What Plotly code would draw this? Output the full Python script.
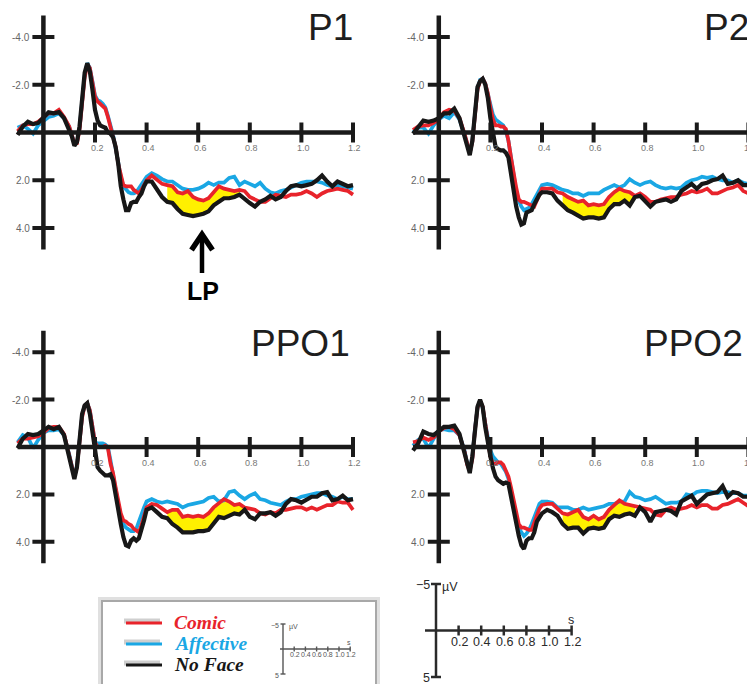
import plotly.graph_objects as go

# ---------------- data ----------------
TIME = [-0.10, -0.08, -0.06, -0.04, -0.02, 0.00, 0.02, 0.04, 0.06, 0.08,
        0.10, 0.11, 0.12, 0.13, 0.14, 0.15, 0.16, 0.17, 0.18, 0.19, 0.20,
        0.21, 0.22, 0.23, 0.24, 0.25, 0.26, 0.27, 0.28, 0.29, 0.30,
        0.31, 0.32, 0.33, 0.34, 0.35, 0.36, 0.37, 0.38, 0.39, 0.40,
        0.42, 0.44, 0.46, 0.48, 0.50, 0.52, 0.54, 0.56, 0.58, 0.60,
        0.62, 0.64, 0.66, 0.68, 0.70, 0.72, 0.74, 0.76, 0.78, 0.80,
        0.82, 0.84, 0.86, 0.88, 0.90, 0.92, 0.94, 0.96, 0.98, 1.00,
        1.02, 1.04, 1.06, 1.08, 1.10, 1.12, 1.14, 1.16, 1.18, 1.20]

P1_COMIC = [-0.05, -0.30, -0.35, -0.35, -0.45, -0.65, -0.80, -0.80, -0.95, -0.65,
            -0.25, 0.10, 0.45, 0.45, -0.10, -1.20, -2.30, -2.85, -2.70, -2.10, -1.50,
            -1.30, -1.20, -1.15, -1.00, -0.65, -0.25, 0.10, 0.60, 1.30, 1.85,
            2.20, 2.25, 2.25, 2.25, 2.40, 2.50, 2.55, 2.40, 2.20, 2.00,
            1.80, 2.00, 2.15, 2.20, 2.25, 2.50, 2.55, 2.45, 2.70, 2.80,
            2.85, 2.75, 2.50, 2.25, 2.35, 2.40, 2.45, 2.40, 2.45, 2.70,
            2.80, 2.90, 2.90, 2.75, 2.60, 2.65, 2.70, 2.60, 2.60, 2.55,
            2.45, 2.55, 2.70, 2.55, 2.45, 2.40, 2.35, 2.40, 2.45, 2.60]
P1_AFFECTIVE = [-0.20, -0.30, -0.15, 0.05, -0.30, -0.50, -0.65, -0.70, -0.80, -0.60,
                -0.25, 0.10, 0.45, 0.40, -0.15, -1.30, -2.40, -2.90, -2.70, -2.15, -1.55,
                -1.35, -1.30, -1.20, -1.05, -0.70, -0.30, 0.10, 0.65, 1.35, 1.85,
                2.25, 2.40, 2.50, 2.55, 2.55, 2.50, 2.35, 2.15, 2.00, 1.85,
                1.70, 1.80, 1.95, 2.05, 2.05, 2.20, 2.35, 2.40, 2.40, 2.35,
                2.25, 2.10, 2.20, 2.10, 2.10, 1.90, 1.85, 2.20, 2.05, 2.15,
                2.25, 2.10, 2.35, 2.50, 2.55, 2.45, 2.40, 2.30, 2.20, 2.10,
                2.05, 2.05, 2.05, 2.10, 2.20, 2.25, 2.20, 2.25, 2.30, 2.35]
P1_NOFACE = [0.10, -0.25, -0.45, -0.35, -0.40, -0.60, -0.85, -0.80, -0.85, -0.60,
             -0.15, 0.15, 0.55, 0.40, -0.25, -1.50, -2.50, -2.90, -2.55, -1.80, -0.95,
             -0.50, -0.30, -0.25, -0.20, 0.00, 0.05, 0.20, 0.60, 1.30, 2.25,
             2.80, 3.25, 3.25, 2.95, 2.90, 2.90, 2.70, 2.55, 2.25, 2.05,
             2.05, 2.35, 2.70, 2.90, 2.95, 3.20, 3.40, 3.45, 3.50, 3.45,
             3.40, 3.30, 3.05, 2.90, 2.75, 2.75, 2.70, 2.60, 2.80, 2.95,
             3.10, 2.90, 2.80, 2.65, 2.80, 2.70, 2.45, 2.25, 2.20, 2.25,
             2.20, 2.15, 2.00, 1.80, 2.05, 2.25, 2.05, 2.15, 2.25, 2.20]

P2_COMIC = [-0.10, -0.25, -0.30, -0.30, -0.40, -0.55, -0.85, -0.95, -0.90, -0.60,
            0.05, 0.50, 0.85, 0.40, -0.80, -1.80, -2.15, -2.25, -2.05, -1.65, -1.05,
            -0.55, -0.30, -0.30, -0.25, -0.25, -0.15, 0.35, 1.05, 1.75, 2.30,
            2.80, 2.90, 2.90, 2.95, 3.00, 3.05, 3.10, 2.85, 2.55, 2.35,
            2.35, 2.35, 2.50, 2.55, 2.70, 2.80, 2.90, 2.85, 3.05, 3.00,
            3.05, 3.00, 2.70, 2.50, 2.35, 2.45, 2.50, 2.65, 2.55, 2.70,
            2.90, 2.90, 2.80, 2.75, 2.70, 2.70, 2.60, 2.55, 2.45, 2.50,
            2.45, 2.35, 2.55, 2.55, 2.45, 2.35, 2.30, 2.20, 2.45, 2.55]
P2_AFFECTIVE = [0.00, -0.20, -0.20, 0.05, -0.30, -0.55, -0.70, -0.60, -0.85, -0.55,
                0.10, 0.50, 0.85, 0.35, -0.85, -1.85, -2.20, -2.25, -2.05, -1.60, -1.05,
                -0.75, -0.55, -0.45, -0.35, -0.30, -0.05, 0.35, 1.05, 1.80, 2.45,
                2.85, 3.10, 3.25, 3.20, 3.15, 3.00, 2.80, 2.55, 2.35, 2.20,
                2.15, 2.20, 2.30, 2.40, 2.45, 2.55, 2.55, 2.65, 2.55, 2.55,
                2.55, 2.40, 2.30, 2.20, 2.30, 2.20, 1.95, 2.10, 2.20, 2.10,
                2.05, 2.20, 2.30, 2.35, 2.30, 2.35, 2.30, 2.10, 2.00, 1.95,
                1.85, 1.90, 1.85, 1.95, 2.00, 2.00, 2.10, 2.00, 2.10, 2.15]
P2_NOFACE = [0.05, -0.20, -0.50, -0.45, -0.50, -0.60, -0.80, -0.80, -1.00, -0.60,
             0.20, 0.60, 0.95, 0.35, -0.90, -1.90, -2.15, -2.25, -2.00, -1.45, -0.60,
             0.05, 0.60, 0.70, 0.75, 0.75, 0.85, 1.05, 1.75, 2.45, 3.10,
             3.55, 3.85, 3.80, 3.35, 3.30, 3.25, 3.00, 2.80, 2.60, 2.50,
             2.50, 2.55, 2.85, 3.05, 3.25, 3.35, 3.50, 3.60, 3.55, 3.55,
             3.60, 3.55, 3.20, 3.00, 3.00, 2.85, 3.05, 2.70, 2.65, 2.90,
             3.10, 2.90, 2.85, 2.80, 2.90, 2.80, 2.45, 2.30, 2.15, 2.35,
             2.15, 2.10, 2.00, 1.95, 1.80, 2.15, 2.10, 2.00, 2.20, 2.20]

PPO1_COMIC = [-0.15, -0.35, -0.35, -0.40, -0.45, -0.60, -0.80, -0.85, -0.85, -0.55,
              0.30, 0.85, 1.25, 0.85, -0.35, -1.25, -1.75, -1.85, -1.55, -0.90, -0.20,
              0.00, 0.00, 0.00, -0.05, 0.05, 0.70, 1.10, 1.70, 2.30, 2.80,
              3.10, 3.15, 3.25, 3.30, 3.45, 3.55, 3.60, 3.30, 2.90, 2.55,
              2.40, 2.45, 2.60, 2.75, 2.65, 2.65, 2.95, 2.90, 2.95, 2.90,
              2.95, 2.80, 2.55, 2.35, 2.20, 2.30, 2.45, 2.40, 2.55, 2.60,
              2.65, 2.80, 2.85, 2.75, 2.80, 2.65, 2.65, 2.60, 2.55, 2.55,
              2.65, 2.55, 2.65, 2.55, 2.45, 2.45, 2.30, 2.35, 2.35, 2.65]
PPO1_AFFECTIVE = [-0.20, -0.50, -0.40, 0.05, -0.30, -0.60, -0.70, -0.70, -0.75, -0.50,
                  0.30, 0.85, 1.25, 0.80, -0.40, -1.30, -1.75, -1.85, -1.55, -0.90, -0.20,
                  -0.15, -0.15, -0.15, -0.10, 0.00, 0.55, 1.20, 1.85, 2.40, 2.90,
                  3.25, 3.40, 3.50, 3.55, 3.55, 3.45, 3.15, 2.80, 2.55, 2.30,
                  2.20, 2.30, 2.35, 2.30, 2.35, 2.40, 2.55, 2.45, 2.40, 2.35,
                  2.30, 2.15, 2.10, 2.30, 2.25, 1.90, 1.85, 2.05, 2.20, 2.05,
                  1.95, 2.20, 2.25, 2.35, 2.40, 2.45, 2.30, 2.20, 2.20, 2.10,
                  2.05, 2.00, 1.95, 1.95, 2.05, 2.10, 2.20, 2.10, 2.20, 2.20]
PPO1_NOFACE = [0.05, -0.35, -0.55, -0.50, -0.55, -0.70, -0.85, -0.75, -0.85, -0.50,
               0.40, 1.00, 1.35, 0.85, -0.40, -1.40, -1.75, -1.85, -1.40, -0.55, 0.30,
               0.85, 1.00, 1.10, 1.20, 1.20, 1.15, 1.40, 2.10, 2.65, 3.25,
               3.80, 4.15, 4.20, 3.95, 3.85, 3.95, 3.85, 3.50, 3.10, 2.65,
               2.55, 2.75, 2.95, 3.00, 3.25, 3.40, 3.60, 3.60, 3.60, 3.55,
               3.55, 3.50, 3.25, 2.95, 3.00, 2.90, 2.80, 2.85, 2.65, 2.95,
               3.05, 2.80, 2.80, 2.75, 2.90, 2.75, 2.40, 2.20, 2.25, 2.35,
               2.20, 2.10, 2.10, 1.95, 1.90, 2.25, 2.20, 2.05, 2.25, 2.20]

PPO2_COMIC = [-0.20, -0.25, -0.40, -0.30, -0.40, -0.65, -0.80, -0.85, -0.75, -0.50,
              0.20, 0.75, 1.00, 0.50, -0.70, -1.65, -1.95, -1.70, -1.00, -0.30, 0.40,
              0.70, 0.70, 0.65, 0.65, 0.75, 1.00, 1.25, 1.70, 2.25, 2.75,
              3.25, 3.40, 3.40, 3.45, 3.50, 3.50, 3.15, 2.90, 2.60, 2.45,
              2.40, 2.40, 2.60, 2.80, 2.85, 2.75, 2.65, 2.95, 3.05, 2.90,
              3.05, 2.95, 2.65, 2.45, 2.25, 2.40, 2.45, 2.50, 2.55, 2.60,
              2.65, 2.85, 2.90, 2.65, 2.55, 2.65, 2.60, 2.55, 2.45, 2.55,
              2.45, 2.45, 2.60, 2.60, 2.45, 2.40, 2.30, 2.20, 2.35, 2.50]
PPO2_AFFECTIVE = [-0.05, -0.30, -0.35, 0.05, -0.35, -0.70, -0.75, -0.70, -0.70, -0.50,
                  0.15, 0.70, 0.90, 0.45, -0.75, -1.65, -1.95, -1.65, -1.00, -0.50, 0.15,
                  0.40, 0.55, 0.65, 0.70, 0.85, 1.05, 1.35, 1.85, 2.40, 2.95,
                  3.40, 3.60, 3.75, 3.65, 3.50, 3.25, 2.95, 2.60, 2.40, 2.30,
                  2.30, 2.35, 2.55, 2.55, 2.55, 2.65, 2.65, 2.55, 2.65, 2.60,
                  2.55, 2.50, 2.40, 2.40, 2.30, 2.30, 1.90, 2.10, 2.15, 2.25,
                  2.20, 2.10, 2.25, 2.40, 2.35, 2.35, 2.30, 2.00, 2.05, 1.90,
                  1.85, 1.85, 1.90, 1.95, 1.90, 1.90, 1.95, 1.95, 2.05, 2.05]
PPO2_NOFACE = [0.15, -0.15, -0.65, -0.55, -0.50, -0.70, -0.85, -0.85, -0.90, -0.55,
               0.30, 0.85, 1.10, 0.40, -0.85, -1.70, -2.00, -1.70, -0.85, -0.15, 0.40,
               0.90, 1.25, 1.40, 1.50, 1.55, 1.50, 1.55, 2.10, 2.70, 3.25,
               3.75, 4.15, 4.30, 3.95, 3.85, 3.85, 3.60, 3.15, 2.95, 2.80,
               2.65, 2.75, 2.90, 3.25, 3.45, 3.40, 3.40, 3.65, 3.45, 3.40,
               3.45, 3.40, 3.05, 2.90, 2.95, 2.85, 2.80, 2.90, 2.55, 2.75,
               3.15, 2.75, 2.70, 2.65, 2.70, 2.85, 2.30, 2.15, 2.05, 2.40,
               2.20, 2.00, 1.95, 1.90, 1.65, 2.10, 1.90, 1.95, 2.10, 2.10]

PANEL_NAMES = ["P1", "P2", "PPO1", "PPO2"]
SERIES_NAMES = ["Comic", "Affective", "No Face"]
PANEL_DATA = [
    [P1_COMIC, P1_AFFECTIVE, P1_NOFACE],
    [P2_COMIC, P2_AFFECTIVE, P2_NOFACE],
    [PPO1_COMIC, PPO1_AFFECTIVE, PPO1_NOFACE],
    [PPO2_COMIC, PPO2_AFFECTIVE, PPO2_NOFACE],
]
YELLOW_WINDOWS = [(0.48, 0.76), (0.48, 0.76), (0.48, 0.78), (0.48, 0.76)]
X_TICKS = [0.2, 0.4, 0.6, 0.8, 1.0, 1.2]
X_TICK_LABELS = ["0.2", "0.4", "0.6", "0.8", "1.0", "1.2"]
Y_TICKS = [-4, -2, 2, 4]
Y_TICK_LABELS = ["-4.0", "-2.0", "2.0", "4.0"]
SCALE_V = [-5, 5]
SCALE_V_LABELS = ["\u22125", "5"]

for arrs in PANEL_DATA:
    for a in arrs:
        assert len(a) == len(TIME), len(a)

# ---------------- styling / geometry ----------------
W, H = 747, 684
COLORS = {"Comic": "#e8232b", "Affective": "#1aa7e4", "No Face": "#171717"}
WIDTHS = {"Comic": 3.7, "Affective": 3.7, "No Face": 4.2}
YELLOW = "#fff000"
SANS = "Arial, 'Liberation Sans', sans-serif"
SERIF = "'Times New Roman', 'Liberation Serif', serif"

PPS = 258.0            # pixels per second
GEOM = [               # pixel position of (t=0, v=0) and pixels per microvolt
    dict(x0=43.4, y0=132.5, ppu=23.9, title_dx=263.7, title_y=27.5),
    dict(x0=438.8, y0=132.5, ppu=23.9, title_dx=263.7, title_y=27.5),
    dict(x0=43.4, y0=447.0, ppu=23.7, title_dx=206.5, title_y=343.5),
    dict(x0=438.8, y0=447.0, ppu=23.7, title_dx=204.5, title_y=343.5),
]
TMIN, TMAX, VLIM = -0.11, 1.23, 5.0


def px(xp):
    return xp / W


def py(yp):
    return 1 - yp / H


fig = go.Figure()
shapes, annos = [], []
layout_axes = {}

for i, (name, g) in enumerate(zip(PANEL_NAMES, GEOM)):
    n = "" if i == 0 else str(i + 1)
    xa, ya = "x" + n, "y" + n
    left = g["x0"] + TMIN * PPS
    right = min(W, g["x0"] + TMAX * PPS)
    tmax = (right - g["x0"]) / PPS
    top = g["y0"] - VLIM * g["ppu"]
    bot = g["y0"] + VLIM * g["ppu"]
    layout_axes["xaxis" + n] = dict(domain=[px(left), px(right)], range=[TMIN, tmax],
                                    visible=False, fixedrange=True, anchor=ya)
    layout_axes["yaxis" + n] = dict(domain=[py(bot), py(top)], range=[VLIM, -VLIM],
                                    visible=False, fixedrange=True, anchor=xa)

    comic, affective, noface = PANEL_DATA[i]

    # yellow difference area between Comic and No Face
    lo, hi = YELLOW_WINDOWS[i]
    idx = [k for k, t in enumerate(TIME) if lo - 1e-9 <= t <= hi + 1e-9]
    fx = [TIME[k] for k in idx] + [TIME[k] for k in reversed(idx)]
    fy = [noface[k] for k in idx] + [comic[k] for k in reversed(idx)]
    fig.add_trace(go.Scatter(x=fx, y=fy, fill="toself", fillcolor=YELLOW,
                             line=dict(width=0), mode="lines", hoverinfo="skip",
                             showlegend=False, xaxis=xa, yaxis=ya))

    for sname, vals in [("Affective", affective), ("Comic", comic), ("No Face", noface)]:
        fig.add_trace(go.Scatter(x=TIME, y=vals, mode="lines", name=sname,
                                 line=dict(color=COLORS[sname], width=WIDTHS[sname]),
                                 showlegend=False, xaxis=xa, yaxis=ya))

    # axes drawn through the crossing at zero
    shapes.append(dict(type="line", xref=xa, yref=ya, x0=TIME[0], x1=X_TICKS[-1], y0=0, y1=0,
                       line=dict(color="#1a1a1a", width=4.5), layer="above"))
    shapes.append(dict(type="line", xref=xa, yref=ya, x0=0, x1=0, y0=-4.9, y1=4.9,
                       line=dict(color="#1a1a1a", width=4.5), layer="above"))
    for t in X_TICKS:
        shapes.append(dict(type="line", xref=xa, yref=ya, x0=t, x1=t,
                           y0=-10 / g["ppu"], y1=10 / g["ppu"],
                           line=dict(color="#1a1a1a", width=4), layer="above"))
    for v in Y_TICKS:
        shapes.append(dict(type="line", xref=xa, yref=ya, x0=-11 / PPS, x1=11 / PPS,
                           y0=v, y1=v, line=dict(color="#1a1a1a", width=4), layer="above"))

    # tick labels
    for t, lab in zip(X_TICKS, X_TICK_LABELS):
        annos.append(dict(text=lab, xref="paper", yref="paper",
                          x=px(g["x0"] + t * PPS + 2), y=py(g["y0"] + 15.5),
                          xanchor="center", yanchor="middle", showarrow=False,
                          font=dict(family=SANS, size=9, color="#777777")))
    for v, lab in zip(Y_TICKS, Y_TICK_LABELS):
        annos.append(dict(text=lab, xref="paper", yref="paper",
                          x=px(g["x0"] - 11.5), y=py(g["y0"] + v * g["ppu"] + 0.5),
                          xanchor="right", yanchor="middle", showarrow=False,
                          font=dict(family=SANS, size=10, color="#666666")))
    # panel title
    annos.append(dict(text=name, xref="paper", yref="paper",
                      x=px(g["x0"] + g["title_dx"] - 1), y=py(g["title_y"]),
                      xanchor="left", yanchor="middle", showarrow=False,
                      font=dict(family=SANS, size=37, color="#1e1e1e")))

# LP arrow below P1 (shaft + chevron head)
shapes.append(dict(type="line", xref="paper", yref="paper", x0=px(202), x1=px(202),
                   y0=py(237), y1=py(273), line=dict(color="#000000", width=4.5),
                   layer="above"))
shapes.append(dict(type="path", xref="paper", yref="paper",
                   path="M %f,%f L %f,%f L %f,%f" % (px(191.5), py(250), px(202), py(234.5),
                                                     px(212.5), py(250)),
                   line=dict(color="#000000", width=5.5), layer="above"))
annos.append(dict(text="<b>LP</b>", xref="paper", yref="paper", x=px(203), y=py(291),
                  xanchor="center", yanchor="middle", showarrow=False,
                  font=dict(family=SANS, size=25, color="#000000")))

# ---------------- legend box ----------------
shapes.append(dict(type="rect", xref="paper", yref="paper", x0=px(101), x1=px(377),
                   y0=py(700), y1=py(600), line=dict(color="#e0e0e0", width=6),
                   fillcolor="#ffffff", layer="above"))
shapes.append(dict(type="rect", xref="paper", yref="paper", x0=px(102), x1=px(376),
                   y0=py(700), y1=py(601), line=dict(color="#a8a8a8", width=2),
                   fillcolor="#ffffff", layer="above"))
LEG_Y = [623, 644, 665]
for sname, yy in zip(SERIES_NAMES, LEG_Y):
    shapes.append(dict(type="line", xref="paper", yref="paper", x0=px(124), x1=px(160),
                       y0=py(yy - 2), y1=py(yy - 2), line=dict(color="#cfcfcf", width=5),
                       layer="above"))
    shapes.append(dict(type="line", xref="paper", yref="paper", x0=px(126), x1=px(162),
                       y0=py(yy), y1=py(yy), line=dict(color=COLORS[sname], width=3),
                       layer="above"))
    annos.append(dict(text="<b><i>%s</i></b>" % sname, xref="paper", yref="paper",
                      x=px(172), y=py(yy - 1), xanchor="left", yanchor="middle",
                      showarrow=False,
                      font=dict(family=SERIF, size=19.5, color=COLORS[sname])))


# ---------------- scale bars ----------------
def scale_bar(cx, cy, pps, ppu, lw, tick_h, cap, fs, color, lab_dy, hline_left,
              v_lab_dx, uv_dx, s_dy):
    top, bot = cy + SCALE_V[0] * ppu, cy + SCALE_V[1] * ppu
    shapes.append(dict(type="line", xref="paper", yref="paper", x0=px(cx), x1=px(cx),
                       y0=py(top), y1=py(bot), line=dict(color=color, width=lw), layer="above"))
    for yy in (top, bot):
        shapes.append(dict(type="line", xref="paper", yref="paper", x0=px(cx - cap),
                           x1=px(cx + cap), y0=py(yy), y1=py(yy),
                           line=dict(color=color, width=lw), layer="above"))
    shapes.append(dict(type="line", xref="paper", yref="paper", x0=px(hline_left),
                       x1=px(cx + X_TICKS[-1] * pps), y0=py(cy), y1=py(cy),
                       line=dict(color=color, width=lw), layer="above"))
    for t, lab in zip(X_TICKS, X_TICK_LABELS):
        xx = cx + t * pps
        shapes.append(dict(type="line", xref="paper", yref="paper", x0=px(xx), x1=px(xx),
                           y0=py(cy - tick_h), y1=py(cy + tick_h),
                           line=dict(color=color, width=lw), layer="above"))
        annos.append(dict(text=lab, xref="paper", yref="paper", x=px(xx + 0.5),
                          y=py(cy + lab_dy), xanchor="center", yanchor="middle",
                          showarrow=False, font=dict(family=SANS, size=fs, color=color)))
    for v, lab in zip(SCALE_V, SCALE_V_LABELS):
        annos.append(dict(text=lab, xref="paper", yref="paper", x=px(cx - v_lab_dx),
                          y=py(cy + v * ppu + 1), xanchor="right", yanchor="middle",
                          showarrow=False, font=dict(family=SANS, size=fs, color=color)))
    annos.append(dict(text="\u00b5V", xref="paper", yref="paper", x=px(cx + uv_dx),
                      y=py(top + 3), xanchor="left", yanchor="middle", showarrow=False,
                      font=dict(family=SANS, size=fs, color=color)))
    annos.append(dict(text="s", xref="paper", yref="paper",
                      x=px(cx + X_TICKS[-1] * pps - 1), y=py(cy - s_dy),
                      xanchor="center", yanchor="middle", showarrow=False,
                      font=dict(family=SANS, size=fs, color=color)))


scale_bar(cx=436, cy=630.5, pps=113.0, ppu=9.3, lw=2.5, tick_h=5, cap=5, fs=12.5,
          color="#2a2a2a", lab_dy=11.5, hline_left=425, v_lab_dx=4, uv_dx=4, s_dy=11)
scale_bar(cx=283, cy=649, pps=56.0, ppu=5.0, lw=1.4, tick_h=2.5, cap=2.5, fs=7,
          color="#555555", lab_dy=5.5, hline_left=280, v_lab_dx=2, uv_dx=4, s_dy=6.5)

fig.update_layout(
    width=W, height=H, margin=dict(l=0, r=0, t=0, b=0),
    paper_bgcolor="#ffffff", plot_bgcolor="rgba(0,0,0,0)",
    showlegend=False, shapes=shapes, annotations=annos, **layout_axes,
)
fig.write_html("out.html")
